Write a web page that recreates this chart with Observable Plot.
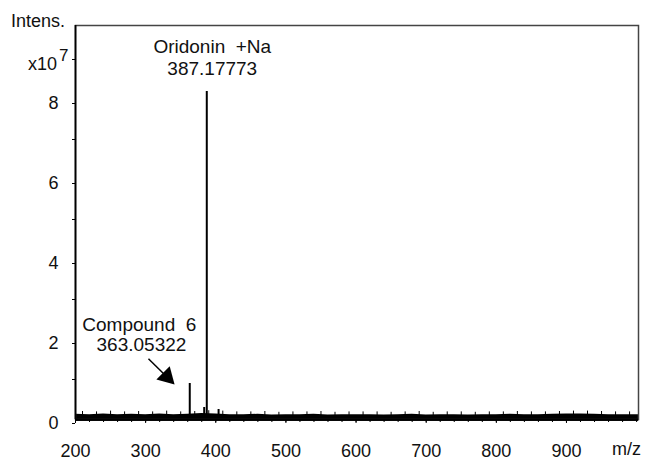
<!DOCTYPE html>
<html><head><meta charset="utf-8">
<script src="https://cdn.jsdelivr.net/npm/d3@7"></script>
<script src="https://cdn.jsdelivr.net/npm/@observablehq/plot@0.6"></script>
<style>
body{margin:0;background:#fff}
#chart{position:relative;width:649px;height:461px;font-family:"Liberation Sans",Arial,sans-serif;color:#111}
#chart svg{position:absolute;left:0;top:0}
.lbl{position:absolute;font-size:18px;white-space:nowrap;line-height:1}
</style>
</head><body><div id="chart"></div>
<script>
// Peaks (m/z, intensity in units of 1e7)
const peakMz = [362.9, 383.5, 387.18, 404.0];
const peakIntensity = [0.9, 0.3, 8.2, 0.25];
// Baseline noise read every 20 m/z (units of 1e7)
const noiseMz = [200,220,240,260,280,300,320,340,360,380,400,420,440,460,480,500,520,540,560,580,600,620,640,660,680,700,720,740,760,780,800,820,840,860,880,900,920,940,960,980,1003];
const noiseLevel = [0.13,0.12,0.14,0.12,0.13,0.12,0.14,0.12,0.13,0.15,0.14,0.12,0.12,0.13,0.11,0.12,0.12,0.13,0.11,0.12,0.12,0.12,0.11,0.12,0.13,0.11,0.12,0.12,0.11,0.12,0.12,0.13,0.12,0.12,0.13,0.14,0.14,0.13,0.12,0.12,0.12];
// Tick values
const xMajor = [200,300,400,500,600,700,800,900];
const xMinor = d3.range(200, 1001, 20);
const yMajor = [0,2,4,6,8];
const yMinor = [1,3,5,7,9];
// Annotations
const annText = ["Oridonin  +Na", "387.17773", "Compound  6", "363.05322"];
const annMz = [395, 395, 291, 294];
const annY = [9.32, 8.76, 2.36, 1.86];
const arrowMz = [304, 333];
const arrowY = [1.52, 1.02];
const arrowTipMz = [336];
const arrowTipY = [0.97];

const peaks = peakMz.map((m,i)=>({mz:m, v:peakIntensity[i]}));
const noise = noiseMz.map((m,i)=>({mz:m, v:noiseLevel[i]}));
const spikes = noiseMz.slice(0, -1).map((m,i)=>({mz:m+10, v:noiseLevel[i]+0.07}));
const ann = annText.map((t,i)=>({t, mz:annMz[i], y:annY[i]}));

const plot = Plot.plot({
  width: 649, height: 461,
  marginLeft: 75, marginRight: 11, marginTop: 25, marginBottom: 42,
  style: {fontFamily: '"Liberation Sans", Arial, sans-serif', fontSize: "18px", color: "#111", background: "#fff"},
  x: {domain: [200, 1002.7]},
  y: {domain: [0, 9.85]},
  marks: [
    Plot.areaY(noise, {x: "mz", y1: -0.05, y2: "v", fill: "#000", curve: "linear"}),
    Plot.ruleX(spikes, {x: "mz", y1: 0, y2: "v", stroke: "#000", strokeWidth: 1}),
    Plot.ruleX(peaks, {x: "mz", y1: 0, y2: "v", stroke: "#000", strokeWidth: 2}),
    Plot.frame({stroke: "#444", strokeWidth: 1.5}),
    Plot.ruleX([200], {stroke: "#000", strokeWidth: 1.8}),
    Plot.ruleY([0], {stroke: "#000", strokeWidth: 1.8}),
    Plot.axisX({ticks: xMinor, tickSize: 3, tickFormat: () => "", label: null, stroke:"#000"}),
    Plot.axisX({ticks: xMajor, tickSize: 4, tickPadding: 21, label: null, fontSize: 18, stroke:"#000", fill:"#111"}),
    Plot.axisY({ticks: yMinor, tickSize: 3, tickFormat: () => "", label: null, stroke:"#000"}),
    Plot.axisY({ticks: yMajor, tickSize: 3, tickPadding: 14, dy: 4, label: null, fontSize: 18, stroke:"#000", fill:"#111"}),
    Plot.text(ann, {x: "mz", y: "y", text: "t", fontSize: 19, fill: "#111", textAnchor: "middle"}),
    Plot.link([{x1: arrowMz[0], y1: arrowY[0], x2: arrowMz[1], y2: arrowY[1]}], {x1: "x1", y1: "y1", x2: "x2", y2: "y2", stroke: "#000", strokeWidth: 1.5}),
    Plot.dot([{x: arrowTipMz[0], y: arrowTipY[0]}], {x: "x", y: "y", symbol: "triangle", r: 7, fill: "#000", stroke: "none", rotate: 135, dx: -4, dy: -4})
  ]
});
const chart = document.getElementById("chart");
chart.appendChild(plot);
function lbl(text, left, top, html){const d=document.createElement("div");d.className="lbl";if(html)d.innerHTML=text;else d.textContent=text;d.style.left=left+"px";d.style.top=top+"px";chart.appendChild(d);}
lbl("Intens.", 11, 12);
lbl('x10<span style="font-size:17px;position:relative;top:-9px;margin-left:2px">7</span>', 28, 55, true);
lbl("m/z", 612, 440);
</script>
</body></html>
